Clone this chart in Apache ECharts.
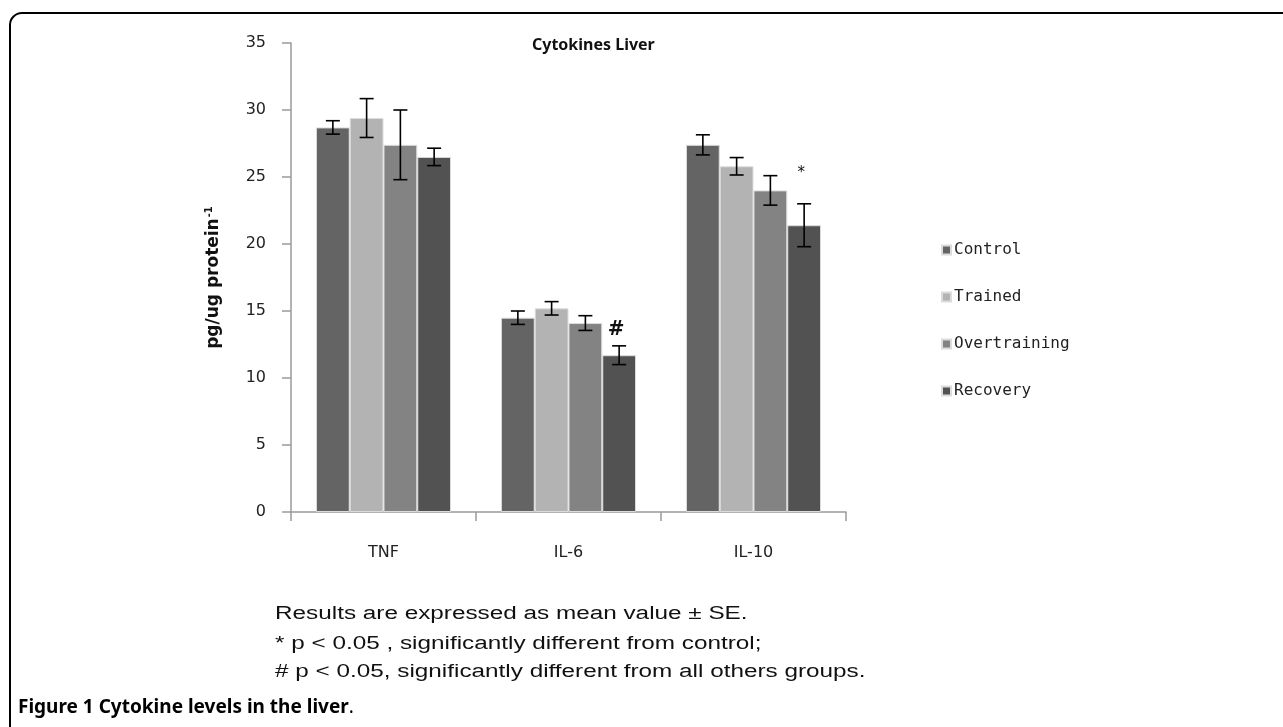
<!DOCTYPE html>
<html>
<head>
<meta charset="utf-8">
<style>
  html, body { margin: 0; padding: 0; background: #fff; }
  #chart { width: 1283px; height: 727px; }
</style>
<script src="https://cdn.jsdelivr.net/npm/echarts@6/dist/echarts.min.js"></script>
</head>
<body>
<div id="chart"></div>
<script>
// data
var categories = ["TNF", "IL-6", "IL-10"];
var groups = ["Control", "Trained", "Overtraining", "Recovery"];
var controlMean = [28.7, 14.5, 27.4];
var trainedMean = [29.4, 15.2, 25.8];
var overMean = [27.4, 14.1, 24.0];
var recoveryMean = [26.5, 11.7, 21.4];
var controlSE = [0.5, 0.5, 0.75];
var trainedSE = [1.45, 0.5, 0.65];
var overSE = [2.6, 0.55, 1.1];
var recoverySE = [0.65, 0.7, 1.6];
var recoveryNote = ["", "#", "*"];
var recoveryNoteY = [null, 13.6, 25.3];
var yTicks = [0, 5, 10, 15, 20, 25, 30, 35];
var notes = [
  "Results are expressed as mean value \u00b1 SE.",
  "* p < 0.05 , significantly different from control;",
  "# p < 0.05, significantly different from all others groups."
];

var means = [controlMean, trainedMean, overMean, recoveryMean];
var ses = [controlSE, trainedSE, overSE, recoverySE];
var colors = ["#646464", "#b3b3b3", "#838383", "#525252"];
var gapRatio = 0.27;

var chart = echarts.init(document.getElementById("chart"));

var series = [];
groups.forEach(function (name, i) {
  series.push({
    name: name,
    type: "bar",
    barGap: "0%",
    barCategoryGap: gapRatio * 100 + "%",
    itemStyle: { color: colors[i], borderColor: "#dcdcdc", borderWidth: 1 },
    data: means[i]
  });
});
// error bars (and the significance marks on the Recovery bars)
groups.forEach(function (name, i) {
  var data = means[i].map(function (m, k) {
    return [k, m, ses[i][k]];
  });
  series.push({
    type: "custom",
    z: 5,
    silent: true,
    data: data,
    encode: { x: 0, y: 1 },
    renderItem: function (params, api) {
      var k = api.value(0), m = api.value(1), se = api.value(2);
      var c = api.coord([k, m]);
      var band = api.size([1, 0])[0];
      var bw = band * (1 - gapRatio) / 4;
      var x = c[0] + (i - 1.5) * bw;
      var top = api.coord([k, m + se])[1];
      var bot = api.coord([k, m - se])[1];
      var cap = 7;
      var style = { stroke: "#000", lineWidth: 1.6 };
      var children = [
        { type: "line", shape: { x1: x, y1: top, x2: x, y2: bot }, style: style },
        { type: "line", shape: { x1: x - cap, y1: top, x2: x + cap, y2: top }, style: style },
        { type: "line", shape: { x1: x - cap, y1: bot, x2: x + cap, y2: bot }, style: style }
      ];
      if (i === 3 && recoveryNote[k]) {
        var p = api.coord([k, recoveryNoteY[k]]);
        children.push({
          type: "text",
          style: {
            text: recoveryNote[k], x: x - 3, y: p[1],
            align: "center", verticalAlign: "middle",
            fill: "#111",
            font: recoveryNote[k] === "#" ? "bold 20px 'DejaVu Serif'" : "15px 'DejaVu Sans'"
          }
        });
      }
      return { type: "group", children: children };
    }
  });
});

function note(text, y) {
  // the figure's notes are set very wide, so stretch them
  return {
    type: "text", x: 275, y: y, scaleX: 1.35,
    style: { text: text, x: 0, y: 0, verticalAlign: "middle", font: "18px 'Liberation Sans'", fill: "#111" }
  };
}

var option = {
  animation: false,
  title: {
    text: "Cytokines Liver",
    left: 527,
    top: 32,
    textStyle: { fontFamily: "Noto Sans", fontSize: 16, fontWeight: "bold", color: "#111" }
  },
  legend: {
    data: groups,
    orient: "vertical",
    left: 941,
    top: 242,
    padding: 0,
    icon: "rect",
    itemWidth: 9,
    itemHeight: 9,
    itemGap: 31,
    textStyle: { fontFamily: "DejaVu Sans Mono", fontSize: 16, lineHeight: 16, color: "#222", padding: [0, 0, 0, -2] }
  },
  grid: { left: 291, right: 437, top: 43, bottom: 215 },
  xAxis: {
    type: "category",
    data: categories,
    axisLine: { lineStyle: { color: "#9a9a9a", width: 1.5 } },
    axisTick: { show: true, length: 9, lineStyle: { color: "#9a9a9a", width: 1.5 } },
    axisLabel: { margin: 33, fontFamily: "DejaVu Sans", fontSize: 16, color: "#222" }
  },
  yAxis: {
    type: "value",
    min: yTicks[0],
    max: yTicks[yTicks.length - 1],
    interval: 5,
    name: "{a|pg/ug protein}{s|-1}",
    nameLocation: "middle",
    nameGap: 67,
    nameTextStyle: {
      rich: {
        a: { fontFamily: "DejaVu Sans", fontSize: 17, fontWeight: "bold", color: "#111" },
        s: { fontFamily: "DejaVu Sans", fontSize: 10, fontWeight: "bold", color: "#111", padding: [0, 0, 10, 1] }
      }
    },
    axisLine: { show: true, lineStyle: { color: "#9a9a9a", width: 1.5 } },
    axisTick: { show: true, length: 9, lineStyle: { color: "#9a9a9a", width: 1.5 } },
    splitLine: { show: false },
    axisLabel: { margin: 25, fontFamily: "DejaVu Sans", fontSize: 16, color: "#222" }
  },
  graphic: [
    {
      type: "rect",
      shape: { x: 10, y: 13, width: 1320, height: 800, r: [12, 0, 0, 0] },
      style: { fill: "none", stroke: "#000", lineWidth: 2 },
      silent: true
    },
    note(notes[0], 614),
    note(notes[1], 644),
    note(notes[2], 672),
    {
      type: "text", left: 18, top: 698,
      style: {
        text: "{b|Figure 1 Cytokine levels in the liver}{n|.}",
        rich: {
          b: { fontFamily: "Noto Sans", fontSize: 19, fontWeight: "bold", fill: "#000" },
          n: { fontFamily: "Noto Sans", fontSize: 19, fill: "#000" }
        }
      }
    }
  ],
  series: series
};

chart.setOption(option);
window.addEventListener("resize", function () {
  chart.resize();
});
</script>
</body>
</html>
